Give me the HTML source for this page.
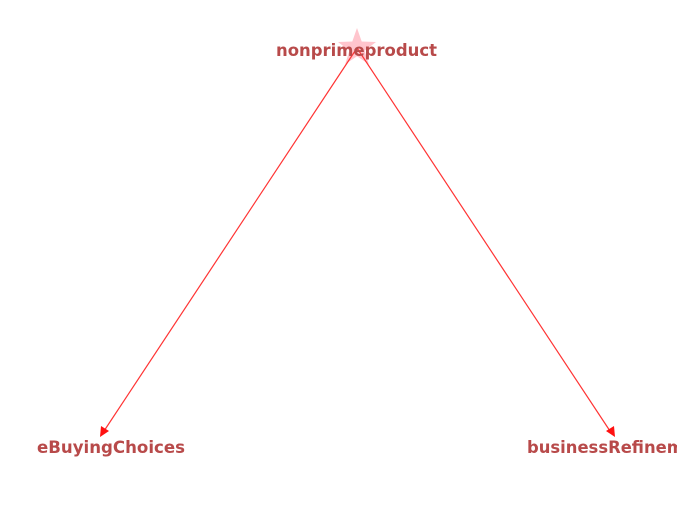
<!DOCTYPE html>
<html><head><style>body{margin:0;background:#fff}svg{display:block}</style></head><body>
<svg width="687" height="523" viewBox="0 0 687 523" xmlns="http://www.w3.org/2000/svg">
<defs><clipPath id="c"><rect x="0" y="0" width="677" height="523"/></clipPath></defs>
<polygon points="357,28 361.7,41.5 376,42 364.6,50.6 368.8,64.3 357,56.2 345.2,64.3 349.4,50.6 338,42 352.3,41.5" fill="#ffb6c1" opacity="0.8"/>
<line x1="357" y1="48" x2="104" y2="431" stroke="#ff3333" stroke-width="1.2"/>
<line x1="357" y1="48" x2="610" y2="431" stroke="#ff3333" stroke-width="1.2"/>
<polygon points="100,437 101,426 109,431" fill="#ff1111"/>
<polygon points="615,437 606,431 614,426" fill="#ff1111"/>
<g font-family="DejaVu Sans, sans-serif" font-weight="bold" font-size="16.4" fill="#b84a4a" clip-path="url(#c)">
<text x="276" y="56" textLength="161" lengthAdjust="spacingAndGlyphs">nonprimeproduct</text>
<text x="37" y="453" textLength="148" lengthAdjust="spacingAndGlyphs">eBuyingChoices</text>
<text x="527" y="453">businessRefinement</text>
</g>
</svg>
</body></html>
